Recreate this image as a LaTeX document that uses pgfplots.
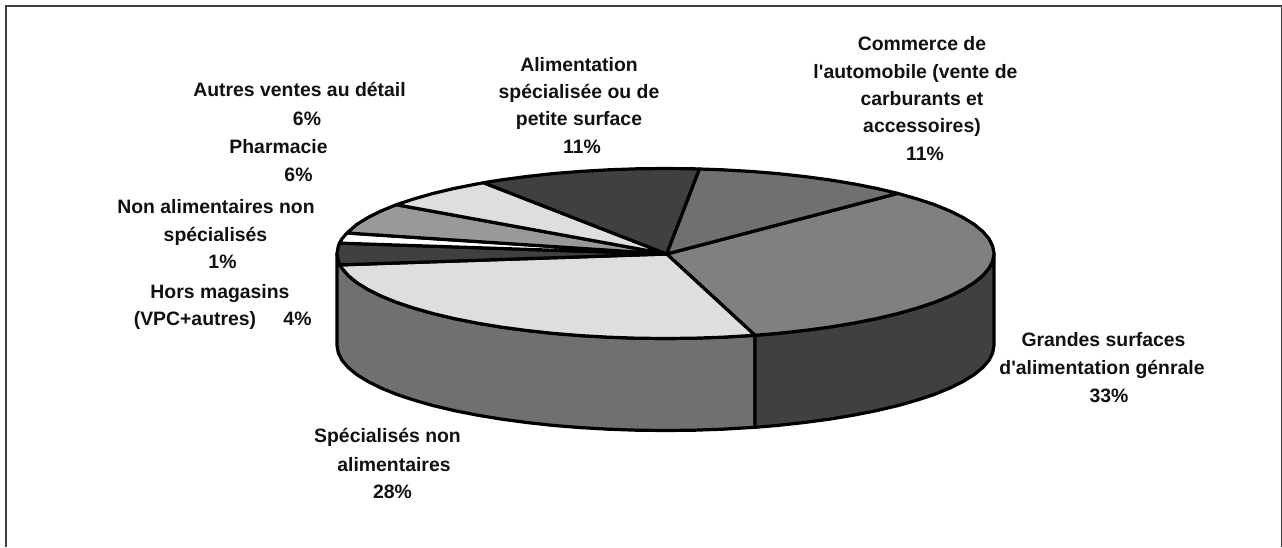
\documentclass[border=0pt]{standalone}
\usepackage{pgfplots}
\pgfplotsset{compat=1.18}
\usepackage{fontspec}
\newfontfamily\lab{Liberation Sans}
\definecolor{dk}{HTML}{404040}
\definecolor{md}{HTML}{808080}
\definecolor{mdk}{HTML}{707070}
\definecolor{lt}{HTML}{DEDEDE}
\definecolor{pg}{HTML}{999999}
\definecolor{tx}{HTML}{111111}
\tikzset{lbl/.style={anchor=base, text=tx, font=\lab\bfseries\fontsize{19.4}{27.3}\selectfont, inner sep=0pt}}
\begin{document}
\begin{tikzpicture}
\begin{axis}[
  scale only axis, width=1282pt, height=547pt,
  xmin=0, xmax=1282, ymin=0, ymax=547, y dir=reverse,
  hide axis, clip=true,
  every axis plot/.append style={line join=round, line width=3.2pt, draw=black},
]
% frame
\addplot[draw=white, fill=white, line width=0pt] coordinates {(0,0) (1282,0) (1282,547) (0,547)} -- cycle;
\addplot[draw=black!75, line width=1.9pt, line join=miter] coordinates {(5.6,547) (5.6,6.4) (1281.6,6.4) (1281.6,547)};
% side: Specialises non alimentaires
\addplot[fill=mdk] coordinates {
(755,335.3) (722.5,337.2) (694.1,338.2) (665.5,338.5) (636.9,338.2) (608.5,337.2) (580.5,335.6) (553.1,333.4) (526.7,330.5) (501.2,327.1) (477.1,323.1) (454.3,318.6) (433.2,313.6) (413.9,308.1) (396.4,302.3) (381,296) (367.8,289.4) (356.8,282.6) (348.2,275.5) (342,268.3) (338.3,260.9) (337,253.5)
(337,345.5) (338.3,352.9) (342,360.3) (348.2,367.5) (356.8,374.6) (367.8,381.4) (381,388) (396.4,394.3) (413.9,400.1) (433.2,405.6) (454.3,410.6) (477.1,415.1) (501.2,419.1) (526.7,422.5) (553.1,425.4) (580.5,427.6) (608.5,429.2) (636.9,430.2) (665.5,430.5) (694.1,430.2) (722.5,429.2) (755,427.3)
} -- cycle;
% side: Grandes surfaces
\addplot[fill=dk] coordinates {
(755,335.3) (777.9,333.4) (804.3,330.5) (829.8,327.1) (853.9,323.1) (876.7,318.6) (897.8,313.6) (917.1,308.1) (934.6,302.3) (950,296) (963.2,289.4) (974.2,282.6) (982.8,275.5) (989,268.3) (992.7,260.9) (994,253.5)
(994,345.5) (992.7,352.9) (989,360.3) (982.8,367.5) (974.2,374.6) (963.2,381.4) (950,388) (934.6,394.3) (917.1,400.1) (897.8,405.6) (876.7,410.6) (853.9,415.1) (829.8,419.1) (804.3,422.5) (777.9,425.4) (755,427.3)
} -- cycle;
% top: Grandes surfaces 33
\addplot[fill=md] coordinates {
(666.7,254) (897.8,193.4) (917.1,198.9) (934.6,204.7) (950,211) (963.2,217.6) (974.2,224.4) (982.8,231.5) (989,238.7) (992.7,246.1) (994,253.5) (992.7,260.9) (989,268.3) (982.8,275.5) (974.2,282.6) (963.2,289.4) (950,296) (934.6,302.3) (917.1,308.1) (897.8,313.6) (876.7,318.6) (853.9,323.1) (829.8,327.1) (804.3,330.5) (777.9,333.4) (755,335.3)
} -- cycle;
% top: Specialises 28
\addplot[fill=lt] coordinates {
(666.7,254) (755,335.3) (722.5,337.2) (694.1,338.2) (665.5,338.5) (636.9,338.2) (608.5,337.2) (580.5,335.6) (553.1,333.4) (526.7,330.5) (501.2,327.1) (477.1,323.1) (454.3,318.6) (433.2,313.6) (413.9,308.1) (396.4,302.3) (381,296) (367.8,289.4) (356.8,282.6) (348.2,275.5) (342,268.3) (340,264.9)
} -- cycle;
% top: Hors magasins 4
\addplot[fill=dk] coordinates {
(666.7,254) (340,264.9) (338.3,260.9) (337,253.5) (338.3,246.1) (339.5,243.1)
} -- cycle;
% top: Non alimentaires 1
\addplot[fill=white] coordinates {
(666.7,254) (339.5,243.1) (342,238.7) (347,233)
} -- cycle;
% top: Pharmacie 6
\addplot[fill=pg] coordinates {
(666.7,254) (347,233) (356.8,224.4) (367.8,217.6) (381,211) (396.4,204.7)
} -- cycle;
% top: Autres ventes 6
\addplot[fill=lt] coordinates {
(666.7,254) (396.4,204.7) (413.9,198.9) (433.2,193.4) (454.3,188.4) (477.1,183.9) (483.5,182.7)
} -- cycle;
% top: Alimentation specialisee 11
\addplot[fill=dk] coordinates {
(666.7,254) (483.5,182.7) (501.2,179.9) (526.7,176.5) (553.1,173.6) (580.5,171.4) (608.5,169.8) (636.9,168.8) (665.5,168.5) (694.1,168.8) (699.5,169)
} -- cycle;
% top: Commerce auto 11
\addplot[fill=mdk] coordinates {
(666.7,254) (699.5,169) (722.5,169.8) (750.5,171.4) (777.9,173.6) (804.3,176.5) (829.8,179.9) (853.9,183.9) (876.7,188.4) (897.8,193.4)
} -- cycle;
% labels
\node[lbl] at (axis cs:922,50) {Commerce de};
\node[lbl] at (axis cs:915.5,78) {l'automobile (vente de};
\node[lbl] at (axis cs:922,105) {carburants et};
\node[lbl] at (axis cs:922,132) {accessoires)};
\node[lbl] at (axis cs:925,160) {11\%};
\node[lbl] at (axis cs:579,71.5) {Alimentation};
\node[lbl] at (axis cs:579,98) {spécialisée ou de};
\node[lbl] at (axis cs:579,125.5) {petite surface};
\node[lbl] at (axis cs:582,153) {11\%};
\node[lbl] at (axis cs:299.5,96.7) {Autres ventes au détail};
\node[lbl] at (axis cs:307,125) {6\%};
\node[lbl] at (axis cs:278.5,153.3) {Pharmacie};
\node[lbl] at (axis cs:298.5,181) {6\%};
\node[lbl] at (axis cs:216,213.3) {Non alimentaires non};
\node[lbl] at (axis cs:215.5,241) {spécialisés};
\node[lbl] at (axis cs:222.5,268.3) {1\%};
\node[lbl] at (axis cs:220,298.3) {Hors magasins};
\node[lbl] at (axis cs:195,325) {(VPC+autres)};
\node[lbl] at (axis cs:297.5,325) {4\%};
\node[lbl] at (axis cs:1103.5,346.7) {Grandes surfaces};
\node[lbl] at (axis cs:1102,374.3) {d'alimentation génrale};
\node[lbl] at (axis cs:1109,402.7) {33\%};
\node[lbl] at (axis cs:387.5,442.7) {Spécialisés non};
\node[lbl] at (axis cs:394,471) {alimentaires};
\node[lbl] at (axis cs:392.5,498) {28\%};
\end{axis}
\end{tikzpicture}
\end{document}
